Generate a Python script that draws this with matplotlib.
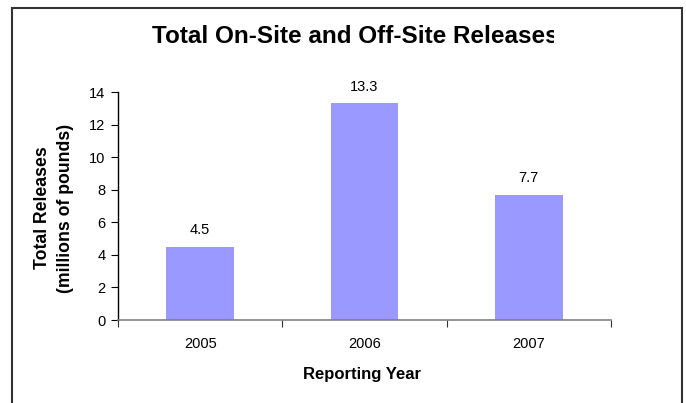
import numpy as np
import matplotlib.pyplot as plt
from matplotlib.patches import Rectangle

plt.rcParams['font.family'] = ['Liberation Sans', 'DejaVu Sans']

years = ['2005', '2006', '2007']
releases = [4.5, 13.3, 7.7]
labels = ['4.5', '13.3', '7.7']

W, H = 686, 403
fig = plt.figure(figsize=(W / 100, H / 100), dpi=100)

# outer frame, bottom runs off the picture
fig.patches.append(Rectangle((12 / W, -0.1), 670 / W, 1.1 - 8 / H, transform=fig.transFigure,
                             fill=False, edgecolor='#333333', linewidth=1.5))

ax = fig.add_axes([118 / W, 1 - 320 / H, 493 / W, 228 / H])
x = np.arange(len(years))
ax.bar(x, releases, width=0.41, color='#9999ff', zorder=2)
for xi, v, s in zip(x, releases, labels):
    ax.annotate(s, (xi, v), xytext=(0, 7), textcoords='offset points',
                ha='center', va='bottom', fontsize=10.5)

ax.set_xlim(-0.5, 2.5)
ax.set_ylim(0, 14)
ax.set_yticks(range(0, 15, 2))
ax.set_xticks([-0.5, 0.5, 1.5, 2.5])
ax.set_xticklabels([])
ax.set_xticks(x, minor=True)
ax.set_xticklabels(years, minor=True)
ax.tick_params(axis='x', which='minor', length=0, pad=12, labelsize=10.5)
ax.tick_params(axis='x', which='major', length=5, direction='out', color='#333333')
ax.tick_params(axis='y', length=5, direction='out', pad=4, labelsize=10.5)
for s in ['top', 'right']:
    ax.spines[s].set_visible(False)
ax.spines['bottom'].set_color('#808080')
ax.spines['bottom'].set_linewidth(1.2)
ax.spines['left'].set_linewidth(1.0)

fig.text(0.527, 1 - 379 / H, 'Reporting Year', ha='center', va='baseline',
         fontsize=12, fontweight='bold')
fig.text(54 / W, 0.484, 'Total Releases\n(millions of pounds)', rotation=90,
         ha='center', va='center', fontsize=12.7, fontweight='bold', linespacing=1.5)

fig.text(355 / W, 1 - 43 / H, 'Total On-Site and Off-Site Releases', ha='center',
         va='baseline', fontsize=17.5, fontweight='bold')
# the title runs past the chart area and gets cut off
fig.add_artist(Rectangle((554 / W, 1 - 52 / H), 126 / W, 32 / H, transform=fig.transFigure,
                         facecolor='white', edgecolor='none', zorder=5))

fig.savefig('out.png', dpi=100)
